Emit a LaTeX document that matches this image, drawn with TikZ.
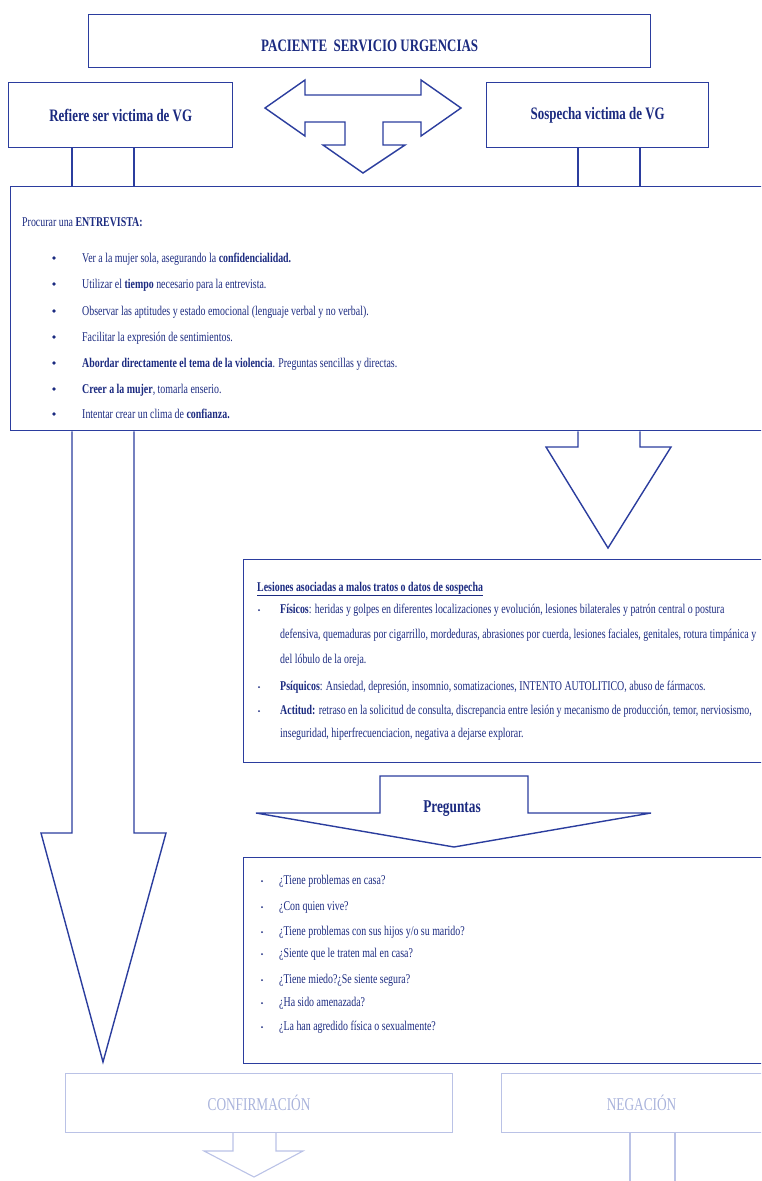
\documentclass[tikz,border=0pt]{standalone}
\usepackage{fontspec}
\setmainfont{Liberation Serif}[FakeStretch=0.74]
\usepackage{xcolor}
\usepackage{tikz}
\usetikzlibrary{arrows.meta}
\definecolor{navy}{HTML}{1B2A80}
\definecolor{edge}{HTML}{2B3D9E}
\definecolor{paleedge}{HTML}{BAC2E6}
\definecolor{paletext}{HTML}{A9B3DB}

\begin{document}
\begin{tikzpicture}[x=1pt, y=-1pt, >=Stealth,
    box/.style={draw=edge, line width=1.4pt, inner sep=0, anchor=north west, align=center,
      text=navy, font=\fontsize{17.5}{19}\selectfont\bfseries},
    panel/.style={draw=edge, line width=1.4pt, inner sep=0, anchor=north west},
    txt/.style={anchor=base west, inner sep=0, text=navy, font=\fontsize{13.4}{15}\selectfont},
    bul/.style={circle, fill=navy, inner sep=0, minimum size=3.6pt},
    smallbul/.style={circle, fill=navy, inner sep=0, minimum size=2pt},
    blk/.style={draw=edge, line width=1.4pt, line join=miter, fill=white},
    faded/.style={draw=paleedge, text=paletext}]
    \useasboundingbox (0,0) rectangle (761,1181);
    \clip (0,0) rectangle (761,1181);
    % Header boxes
    \node[box, minimum width=562, minimum height=53, text height=24pt, text depth=4pt] (paciente) at (88,14) {PACIENTE\ \ SERVICIO URGENCIAS};
    \node[box, minimum width=224, minimum height=65] (refiere) at (8,82) {Refiere ser victima de VG};
    \node[box, minimum width=222, minimum height=65] (sospecha) at (486,82) {Sospecha victima de VG};
    % T-shaped arrow between them
    \draw[blk] (265,108) -- (305,80) -- (305,95) -- (421,95) -- (421,80) -- (461,108)
      -- (421,136) -- (421,122) -- (383,122) -- (383,145) -- (405,145) -- (363,173)
      -- (323,145) -- (345,145) -- (345,122) -- (305,122) -- (305,136) -- cycle;
    % Panels
    \node[panel, minimum width=770, minimum height=244] (entrevista) at (10,186) {};
    \node[panel, minimum width=540, minimum height=203] (lesiones) at (243,559) {};
    \node[panel, minimum width=540, minimum height=206] (cuestiones) at (243,857) {};
    \coordinate (la) at (72,0);
    \coordinate (lb) at (134,0);
    \coordinate (ra) at (578,0);
    \coordinate (rb) at (640,0);
    \draw[edge, line width=1.4pt] (refiere.south -| la) -- (entrevista.north -| la)
      (refiere.south -| lb) -- (entrevista.north -| lb)
      (sospecha.south -| ra) -- (entrevista.north -| ra)
      (sospecha.south -| rb) -- (entrevista.north -| rb);
    % Entrevista
    \node[txt] (procurar) at (22,226) {Procurar una \textbf{ENTREVISTA:}};
    \foreach \y/\t [count=\i] in {
        262/{Ver a la mujer sola, asegurando la \textbf{confidencialidad.}},
        288/{Utilizar el \textbf{tiempo} necesario para la entrevista.},
        315/{Observar las aptitudes y estado emocional (lenguaje verbal y no verbal).},
        341/{Facilitar la expresión de sentimientos.},
        367/{\textbf{Abordar directamente el tema de la violencia}. Preguntas sencillas y directas.},
        393/{\textbf{Creer a la mujer}, tomarla enserio.},
        418/{Intentar crear un clima de \textbf{confianza.}}} {
      \node[bul] (eb\i) at (54,\y-4) {};
      \node[txt] (et\i) at (82,\y) {\t};
    }
    % Long arrow on the left
    \draw[blk] (entrevista.south -| la) -- (72,833) -- (41,833) -- (103,1062) -- (166,833)
      -- (134,833) -- (entrevista.south -| lb);
    % Arrow down to lesiones
    \draw[blk] (entrevista.south -| ra) -- (578,447) -- (546,447) -- (608,548) -- (671,447)
      -- (640,447) -- (entrevista.south -| rb);
    % Lesiones
    \node[txt] (lestit) at (257,591) {\underline{\textbf{Lesiones asociadas a malos tratos o datos de sospecha}}};
    \foreach \y/\t [count=\i] in {
        613/{\textbf{Físicos}: heridas y golpes en diferentes localizaciones y evolución, lesiones bilaterales y patrón central o postura},
        638/{defensiva, quemaduras por cigarrillo, mordeduras, abrasiones por cuerda, lesiones faciales, genitales, rotura timpánica y},
        663/{del lóbulo de la oreja.},
        690/{\textbf{Psíquicos}: Ansiedad, depresión, insomnio, somatizaciones, INTENTO AUTOLITICO, abuso de fármacos.},
        714/{\textbf{Actitud:} retraso en la solicitud de consulta, discrepancia entre lesión y mecanismo de producción, temor, nerviosismo,},
        737/{inseguridad, hiperfrecuenciacion, negativa a dejarse explorar.}} {
      \node[txt] (lt\i) at (280,\y) {\t};
    }
    \foreach \y [count=\i] in {613,690,714}
      \node[smallbul] (lb\i) at (259,\y-3) {};
    % Preguntas arrow
    \draw[blk] (256,813) -- (380,813) -- (380,776) -- (528,776) -- (528,813) -- (651,813)
      -- (454,847) -- cycle;
    \node[txt, anchor=center, font=\fontsize{18}{20}\selectfont\bfseries] (preguntas) at (452,809) {Preguntas};
    % Cuestiones
    \foreach \y/\t [count=\i] in {
        884/{¿Tiene problemas en casa?},
        910/{¿Con quien vive?},
        935/{¿Tiene problemas con sus hijos y/o su marido?},
        957/{¿Siente que le traten mal en casa?},
        983/{¿Tiene miedo?¿Se siente segura?},
        1006/{¿Ha sido amenazada?},
        1030/{¿La han agredido física o sexualmente?}} {
      \node[smallbul] (qb\i) at (262,\y-3) {};
      \node[txt] (qt\i) at (279,\y) {\t};
    }
    % Faded outcome boxes
    \node[box, faded, line width=1.1pt, minimum width=387, minimum height=59,
      font=\fontsize{18}{20}\selectfont] (confirmacion) at (65,1073) {CONFIRMACIÓN};
    \node[box, faded, line width=1.1pt, minimum width=280, minimum height=59,
      font=\fontsize{18}{20}\selectfont] (negacion) at (501,1073) {NEGACIÓN};
    \draw[paleedge, line width=1.1pt, line join=miter] (confirmacion.south -| 233,0) -- (233,1151)
      -- (204,1151) -- (254,1177) -- (303,1151) -- (276,1151) -- (confirmacion.south -| 276,0);
    \draw[paleedge, line width=1.1pt] (negacion.south -| 630,0) -- (630,1185)
      (negacion.south -| 675,0) -- (675,1185);
\end{tikzpicture}
\end{document}
